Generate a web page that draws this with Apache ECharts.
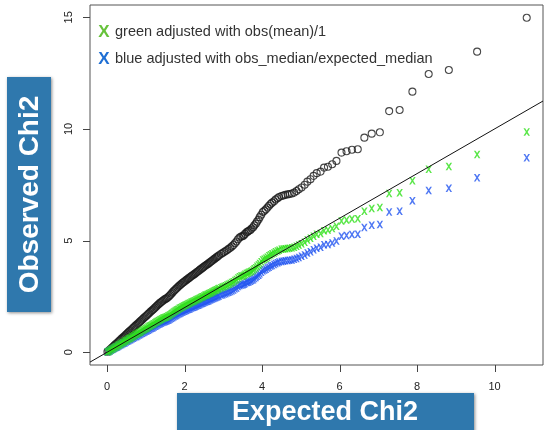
<!DOCTYPE html>
<html>
<head>
<meta charset="utf-8">
<script src="https://cdn.jsdelivr.net/npm/echarts@6/dist/echarts.min.js"></script>
<style>
html,body{margin:0;padding:0;background:#fff;}
#chart{width:545px;height:430px;}
</style>
</head>
<body>
<div id="chart"></div>
<script>
// Expected chi2 quantiles (x)
const expected = [
 0.01,0.04,0.07,0.10,0.13,0.16,0.19,0.22,0.25,0.28,
 0.31,0.34,0.37,0.40,0.43,0.46,0.49,0.52,0.55,0.58,
 0.61,0.64,0.67,0.70,0.73,0.76,0.79,0.82,0.85,0.88,
 0.91,0.94,0.97,1.00,1.03,1.06,1.09,1.12,1.15,1.18,
 1.21,1.24,1.27,1.30,1.33,1.36,1.39,1.42,1.45,1.48,
 1.51,1.54,1.57,1.60,1.63,1.66,1.69,1.72,1.75,1.78,
 1.81,1.84,1.87,1.90,1.93,1.96,1.99,2.02,2.05,2.08,
 2.11,2.14,2.17,2.20,2.23,2.26,2.29,2.32,2.35,2.38,
 2.41,2.44,2.47,2.50,2.53,2.56,2.59,2.62,2.65,2.68,
 2.71,2.74,2.77,2.80,2.83,2.86,2.89,
 2.94,2.98,3.02,3.06,3.10,3.14,3.18,3.22,3.26,3.30,3.34,3.38,3.42,3.46,
 3.50,3.53,3.56,3.60,3.63,3.66,3.70,3.73,3.77,3.80,3.84,3.87,3.91,3.94,3.98,
 4.02,4.06,4.10,4.14,4.18,4.22,4.26,
 4.31,4.35,4.40,4.44,4.50,4.55,4.60,4.66,4.71,4.77,4.83,4.89,4.95,
 5.02,5.10,5.17,5.25,5.33,5.41,5.51,5.60,5.70,5.81,5.92,
 6.05,6.18,6.32,6.47,6.64,6.83,7.04,7.28,7.55,7.88,8.30,8.82,9.55,10.83
];
// Observed chi2 (black circles)
const observed = [
 0.02,0.06,0.11,0.16,0.21,0.26,0.31,0.36,0.40,0.45,
 0.50,0.55,0.60,0.65,0.69,0.74,0.79,0.84,0.89,0.94,
 0.98,1.03,1.08,1.13,1.18,1.23,1.28,1.32,1.37,1.42,
 1.47,1.52,1.57,1.61,1.66,1.71,1.76,1.81,1.86,1.90,
 1.95,2.00,2.05,2.10,2.15,2.20,2.24,2.28,2.32,2.36,
 2.39,2.42,2.46,2.51,2.56,2.62,2.68,2.74,2.79,2.84,
 2.89,2.94,2.99,3.03,3.08,3.12,3.16,3.20,3.24,3.28,
 3.32,3.36,3.40,3.44,3.47,3.51,3.55,3.59,3.63,3.67,
 3.71,3.75,3.79,3.83,3.87,3.91,3.94,3.98,4.02,4.06,
 4.10,4.14,4.18,4.22,4.26,4.30,4.34,
 4.40,4.44,4.49,4.53,4.58,4.63,4.68,4.74,4.80,4.88,4.96,5.06,5.14,5.18,
 5.20,5.24,5.30,5.37,5.40,5.44,5.48,5.54,5.60,5.68,5.76,5.85,5.94,6.05,6.16,
 6.28,6.34,6.40,6.48,6.56,6.64,6.70,
 6.76,6.84,6.90,6.95,7.00,7.02,7.05,7.07,7.09,7.11,7.15,7.22,7.30,
 7.38,7.50,7.64,7.75,7.90,8.02,8.09,8.27,8.31,8.42,8.57,
 8.94,9.00,9.07,9.09,9.61,9.79,9.85,10.80,10.85,11.67,12.46,12.64,13.46,14.98
];
// Green: adjusted with obs(mean)/1
const greenAdjusted = [
 0.01,0.04,0.07,0.11,0.14,0.17,0.20,0.24,0.26,0.30,
 0.33,0.36,0.39,0.43,0.45,0.49,0.52,0.55,0.59,0.62,
 0.64,0.68,0.71,0.74,0.78,0.81,0.84,0.87,0.90,0.93,
 0.97,1.00,1.03,1.06,1.09,1.13,1.16,1.19,1.22,1.25,
 1.28,1.32,1.35,1.38,1.41,1.45,1.47,1.50,1.53,1.55,
 1.57,1.59,1.62,1.65,1.68,1.72,1.76,1.80,1.84,1.87,
 1.90,1.93,1.97,1.99,2.03,2.05,2.08,2.11,2.13,2.16,
 2.18,2.21,2.24,2.26,2.28,2.31,2.34,2.36,2.39,2.41,
 2.44,2.47,2.49,2.52,2.55,2.57,2.59,2.62,2.64,2.67,
 2.70,2.72,2.75,2.78,2.80,2.83,2.86,
 2.89,2.92,2.95,2.98,3.01,3.05,3.08,3.12,3.16,3.21,3.26,3.33,3.38,3.41,
 3.42,3.45,3.49,3.53,3.55,3.58,3.61,3.64,3.68,3.74,3.79,3.85,3.91,3.98,4.05,
 4.13,4.17,4.21,4.26,4.32,4.37,4.41,
 4.45,4.50,4.54,4.57,4.61,4.62,4.64,4.65,4.66,4.68,4.70,4.75,4.80,
 4.86,4.93,5.03,5.10,5.20,5.28,5.32,5.44,5.47,5.54,5.64,
 5.88,5.92,5.97,5.98,6.32,6.44,6.48,7.11,7.14,7.68,8.20,8.32,8.86,9.86
];
// Blue: adjusted with obs_median/expected_median
const blueAdjusted = [
 0.01,0.03,0.06,0.09,0.12,0.15,0.18,0.21,0.23,0.26,
 0.29,0.32,0.35,0.38,0.40,0.43,0.46,0.49,0.52,0.55,
 0.57,0.60,0.63,0.66,0.69,0.71,0.74,0.77,0.80,0.83,
 0.85,0.88,0.91,0.94,0.96,0.99,1.02,1.05,1.08,1.10,
 1.13,1.16,1.19,1.22,1.25,1.28,1.30,1.33,1.35,1.37,
 1.39,1.41,1.43,1.46,1.49,1.52,1.56,1.59,1.62,1.65,
 1.68,1.71,1.74,1.76,1.79,1.81,1.84,1.86,1.88,1.91,
 1.93,1.95,1.98,2.00,2.02,2.04,2.06,2.09,2.11,2.13,
 2.16,2.18,2.20,2.23,2.25,2.27,2.29,2.31,2.34,2.36,
 2.38,2.41,2.43,2.45,2.48,2.50,2.52,
 2.56,2.58,2.61,2.63,2.66,2.69,2.72,2.75,2.79,2.84,2.88,2.94,2.99,3.01,
 3.02,3.05,3.08,3.12,3.14,3.16,3.18,3.22,3.25,3.30,3.35,3.40,3.45,3.52,3.58,
 3.65,3.68,3.72,3.77,3.81,3.86,3.89,
 3.93,3.98,4.01,4.04,4.07,4.08,4.10,4.11,4.12,4.13,4.16,4.20,4.24,
 4.30,4.36,4.44,4.50,4.59,4.66,4.70,4.81,4.83,4.89,4.98,
 5.20,5.23,5.27,5.28,5.59,5.69,5.72,6.28,6.31,6.78,7.24,7.35,7.82,8.71
];
const xTicks = [0, 2, 4, 6, 8, 10];
const yTicks = [0, 5, 10, 15];
const xRange = [-0.44, 11.25];
const yRange = [-0.57, 15.55];
const abline = { intercept: 0, slope: 1 };
const legendLabels = ['green adjusted with obs(mean)/1', 'blue adjusted with obs_median/expected_median'];
const xTitle = 'Expected Chi2';
const yTitle = 'Observed Chi2';

const FONT = '"Liberation Sans", Arial, Helvetica, sans-serif';
const xMark = 'path://M0,0 L2.6,0 L5,3.2 L7.4,0 L10,0 L6.3,5 L10,10 L7.4,10 L5,6.8 L2.6,10 L0,10 L3.7,5 Z';
const TICK_LEN = 7;

const pair = (ys) => expected.map((x, i) => [x, ys[i]]);
const lineData = [xRange[0], xRange[1]].map(x => [x, abline.intercept + abline.slope * x]);

const staticGraphics = [
  { type: 'rect', shape: { x: 7, y: 77, width: 44, height: 235 },
    style: { fill: '#2f78ad', shadowBlur: 3, shadowColor: 'rgba(0,0,0,0.45)', shadowOffsetX: 1, shadowOffsetY: 1 }, z: 10 },
  { type: 'text', x: 30, y: 194.5, rotation: Math.PI / 2,
    style: { text: yTitle, fill: '#fff', font: 'bold 28px ' + FONT, align: 'center', verticalAlign: 'middle' }, z: 11 },
  { type: 'rect', shape: { x: 177, y: 393, width: 297, height: 45 },
    style: { fill: '#2f78ad', shadowBlur: 3, shadowColor: 'rgba(0,0,0,0.45)', shadowOffsetX: 1, shadowOffsetY: 1 }, z: 10 },
  { type: 'text', x: 325, y: 413,
    style: { text: xTitle, fill: '#fff', font: 'bold 27px ' + FONT, align: 'center', verticalAlign: 'middle' }, z: 11 },
  { type: 'text', x: 104, y: 32,
    style: { text: 'X', fill: '#66c23a', font: 'bold 17px ' + FONT, align: 'center', verticalAlign: 'middle' }, z: 11 },
  { type: 'text', x: 115, y: 32,
    style: { text: legendLabels[0], fill: '#333', font: '14.5px ' + FONT, align: 'left', verticalAlign: 'middle' }, z: 11 },
  { type: 'text', x: 104, y: 59,
    style: { text: 'X', fill: '#1f6fd4', font: 'bold 17px ' + FONT, align: 'center', verticalAlign: 'middle' }, z: 11 },
  { type: 'text', x: 115, y: 59,
    style: { text: legendLabels[1], fill: '#333', font: '14.5px ' + FONT, align: 'left', verticalAlign: 'middle' }, z: 11 }
];

const chart = echarts.init(document.getElementById('chart'), null, { renderer: 'canvas' });
chart.setOption({
  animation: false,
  backgroundColor: '#fff',
  grid: { left: 90, right: 2, top: 5, bottom: 65, show: true, borderColor: '#555', borderWidth: 1, backgroundColor: 'transparent' },
  xAxis: {
    type: 'value', min: xRange[0], max: xRange[1],
    axisLine: { show: false, onZero: false },
    splitLine: { show: false },
    axisTick: { show: false },
    axisLabel: { customValues: xTicks, margin: 16, fontSize: 11, color: '#222', fontFamily: FONT }
  },
  yAxis: {
    type: 'value', min: yRange[0], max: yRange[1],
    axisLine: { show: false, onZero: false },
    splitLine: { show: false },
    axisTick: { show: false },
    axisLabel: { customValues: yTicks, margin: 16, fontSize: 11, color: '#222', fontFamily: FONT, rotate: 90 }
  },
  series: [
    {
      type: 'scatter', data: pair(observed), symbol: 'circle', symbolSize: 7,
      itemStyle: { color: 'rgba(0,0,0,0)', borderColor: '#1a1a1a', borderWidth: 1.1 },
      clip: true, z: 2
    },
    {
      type: 'scatter', data: pair(blueAdjusted), symbol: xMark, symbolSize: [6.5, 7.5],
      itemStyle: { color: '#2255f0' }, clip: true, z: 3
    },
    {
      type: 'scatter', data: pair(greenAdjusted), symbol: xMark, symbolSize: [6.5, 7.5],
      itemStyle: { color: '#2fe01a' }, clip: true, z: 4
    },
    {
      type: 'line', data: lineData, symbol: 'none', clip: true,
      lineStyle: { color: '#111', width: 1 }, z: 5, silent: true
    }
  ],
  graphic: staticGraphics
});

// Tick marks positioned through the chart's own scales
const tickGraphics = [];
xTicks.forEach(v => {
  const p = chart.convertToPixel({ gridIndex: 0 }, [v, yRange[0]]);
  const x = Math.round(p[0]) + 0.5;
  tickGraphics.push({ type: 'line', shape: { x1: x, y1: p[1], x2: x, y2: p[1] + TICK_LEN },
    style: { stroke: '#444', lineWidth: 1 }, z: 12 });
});
yTicks.forEach(v => {
  const p = chart.convertToPixel({ gridIndex: 0 }, [xRange[0], v]);
  const y = Math.round(p[1]) + 0.5;
  tickGraphics.push({ type: 'line', shape: { x1: p[0] - TICK_LEN, y1: y, x2: p[0], y2: y },
    style: { stroke: '#444', lineWidth: 1 }, z: 12 });
});
chart.setOption({ graphic: staticGraphics.concat(tickGraphics) });
</script>
</body>
</html>
